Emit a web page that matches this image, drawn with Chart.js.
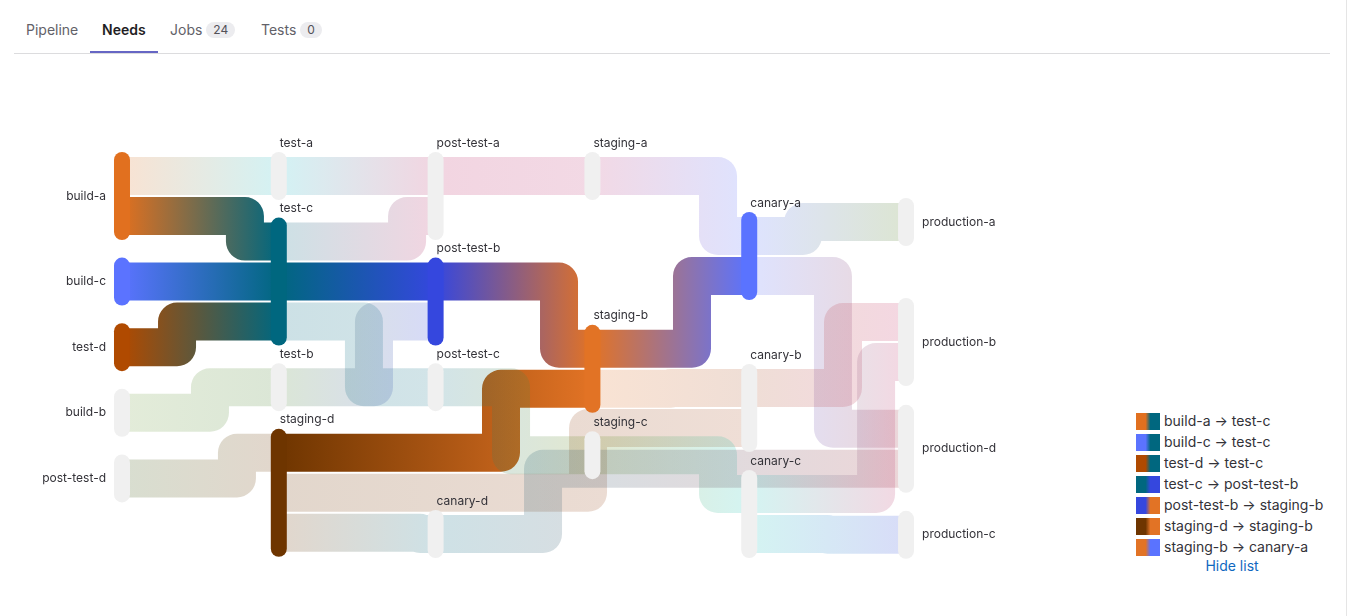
<!DOCTYPE html>
<html>
<head>
<meta charset="utf-8">
<script src="https://cdn.jsdelivr.net/npm/chart.js@4/dist/chart.umd.min.js"></script>
<style>
  body { margin: 0; background: #fff; font-family: Inter, "Noto Sans", sans-serif; color: #333238; }
  .tabs { position: absolute; left: 14px; top: 0; width: 1316px; height: 53px; border-bottom: 1px solid #dcdcde; }
  .tab { position: absolute; top: 21px; font-size: 14px; line-height: 18px; color: #626168; }
  .tab.active { color: #1f1e24; font-weight: 600; }
  .tab .badge { display: inline-block; margin-left: 4px; padding: 0 7px; height: 16px; line-height: 16px; border-radius: 8px; background: #ececef; color: #535158; font-size: 12px; vertical-align: 1px; }
  .underline { position: absolute; left: 76px; top: 51px; width: 68px; height: 2px; background: #6666c4; }
  .edge { position: absolute; left: 1346px; top: 0; width: 1px; height: 616px; background: #e5e5e5; }
  #wrap { position: absolute; left: 0; top: 60px; width: 1100px; height: 556px; }
  .legend { position: absolute; left: 1136px; top: 410px; font-size: 14px; color: #333238; }
  .legend .row { height: 21px; line-height: 21px; white-space: nowrap; }
  .legend .sw { display: inline-block; width: 24px; height: 17px; vertical-align: -4px; margin-right: 4px; }
  .legend .hide { text-align: center; color: #1068bf; width: 192px; margin-top: 0px; }
</style>
</head>
<body>
<div class="tabs">
  <div class="tab" style="left:12px">Pipeline</div>
  <div class="tab active" style="left:88px">Needs</div>
  <div class="tab" style="left:156px">Jobs<span class="badge">24</span></div>
  <div class="tab" style="left:247px">Tests<span class="badge">0</span></div>
  <div class="underline"></div>
</div>
<div class="edge"></div>
<div id="wrap"><canvas id="dag"></canvas></div>
<div class="legend" id="legend"></div>
<script>
// jobs, their column (stage order) and top position (in link units)
const nodeNames = ['build-a', 'build-c', 'test-d', 'build-b', 'post-test-d',
    'test-a', 'test-c', 'test-b', 'staging-d',
    'post-test-a', 'post-test-b', 'post-test-c', 'canary-d',
    'staging-a', 'staging-b', 'staging-c',
    'canary-a', 'canary-b', 'canary-c',
    'production-a', 'production-b', 'production-d', 'production-c'];
const nodeColumn = [0, 0, 0, 0, 0, 1, 1, 1, 1, 2, 2, 2, 2, 3, 3, 3, 4, 4, 4, 5, 5, 5, 5];
const nodeTop = [0, 2.64, 4.28, 5.92, 7.56,
    0, 1.64, 5.28, 6.92,
    0, 2.64, 5.28, 8.95,
    0, 4.32, 6.98,
    1.5, 5.3, 7.95,
    1.15, 3.65, 6.32, 8.97];
const nodeColors = ['#e1701f', '#5b73ff', '#b04a00', '#73a041', '#3c5a14',
    '#23bec8', '#00677f', '#4a8232', '#6e3500',
    '#be2d69', '#3547de', '#1e788c', '#0a6a82',
    '#c0407c', '#e27325', '#6e8c14',
    '#5a73ff', '#af5a32', '#28c8be',
    '#507d1e', '#c8376e', '#a0323c', '#3c50dc'];

// needs: source -> target, every need has the same weight
const linkSource = ['build-a', 'build-a', 'build-c', 'test-d', 'build-b', 'post-test-d',
    'test-a', 'test-c', 'test-c', 'test-c', 'test-b',
    'staging-d', 'staging-d', 'staging-d', 'post-test-a', 'post-test-b', 'post-test-c',
    'staging-a', 'staging-b', 'staging-b', 'staging-c',
    'canary-d', 'canary-a', 'canary-a', 'canary-b', 'canary-c', 'canary-c'];
const linkTarget = ['test-a', 'test-c', 'test-c', 'test-c', 'test-b', 'staging-d',
    'post-test-a', 'post-test-a', 'post-test-b', 'post-test-c', 'post-test-b',
    'staging-b', 'canary-b', 'canary-d', 'staging-a', 'staging-b', 'staging-c',
    'canary-a', 'canary-a', 'canary-b', 'canary-c',
    'production-d', 'production-a', 'production-d', 'production-b', 'production-b', 'production-c'];
const linkValue = [1, 1, 1, 1, 1, 1, 1, 1, 1, 1, 1, 1, 1, 1, 1, 1, 1, 1, 1, 1, 1, 1, 1, 1, 1, 1, 1];

// highlighted path (shown in the list)
const highlightSource = ['build-a', 'build-c', 'test-d', 'test-c', 'post-test-b', 'staging-d', 'staging-b'];
const highlightTarget = ['test-c', 'test-c', 'test-c', 'post-test-b', 'staging-b', 'staging-b', 'canary-a'];

// layout: x (in columns) where each link turns
const linkBend = [0.5, 0.784, 0.5, 0.351, 0.561, 0.733,
    1.5, 1.818, 1.5, 1.543, 1.607,
    2.417, 2.972, 1.9, 2.5, 2.787, 2.481,
    3.801, 3.635, 3.5, 3.801,
    2.685, 4.343, 4.534, 4.598, 4.809, 4.5];

const idx = name => nodeNames.indexOf(name);
const isHi = (s, t) => highlightSource.some((h, i) => h === s && highlightTarget[i] === t);
const hiNodes = new Set([...highlightSource, ...highlightTarget]);

function rgba(hex, a) {
    const n = parseInt(hex.slice(1), 16);
    return `rgba(${n >> 16},${(n >> 8) & 255},${n & 255},${a})`;
}

const dagPlugin = {
    id: 'dag',
    afterDatasetsDraw(chart) {
        const ctx = chart.ctx;
        const xs = chart.scales.x, ys = chart.scales.y;
        const unit = Math.abs(ys.getPixelForValue(1) - ys.getPixelForValue(0));

        // stack links inside nodes
        const outs = nodeNames.map(() => []), ins = nodeNames.map(() => []);
        linkSource.forEach((s, i) => {
            outs[idx(s)].push(i);
            ins[idx(linkTarget[i])].push(i);
        });
        const y0 = [], y1 = [];
        outs.forEach((list, n) => {
            list.sort((a, b) => nodeTop[idx(linkTarget[a])] - nodeTop[idx(linkTarget[b])]);
            let acc = nodeTop[n];
            list.forEach(l => { y0[l] = acc + linkValue[l] / 2; acc += linkValue[l]; });
        });
        ins.forEach((list, n) => {
            list.sort((a, b) => nodeTop[idx(linkSource[a])] - nodeTop[idx(linkSource[b])]);
            let acc = nodeTop[n];
            list.forEach(l => { y1[l] = acc + linkValue[l] / 2; acc += linkValue[l]; });
        });
        const height = nodeNames.map((n, i) => Math.max(
            outs[i].reduce((a, l) => a + linkValue[l], 0),
            ins[i].reduce((a, l) => a + linkValue[l], 0)));

        ctx.save();
        ctx.lineJoin = 'round';
        ctx.lineCap = 'butt';
        linkSource.forEach((s, i) => {
            const si = idx(s), ti = idx(linkTarget[i]);
            const sx = xs.getPixelForValue(nodeColumn[si]);
            const tx = xs.getPixelForValue(nodeColumn[ti]);
            const mx = xs.getPixelForValue(linkBend[i]);
            const py0 = ys.getPixelForValue(y0[i]), py1 = ys.getPixelForValue(y1[i]);
            const hi = isHi(s, linkTarget[i]);
            const a = hi ? 1 : 0.2;
            const g = ctx.createLinearGradient(sx, 0, tx, 0);
            g.addColorStop(0, rgba(nodeColors[si], a));
            g.addColorStop(1, rgba(nodeColors[ti], a));
            ctx.strokeStyle = g;
            ctx.lineWidth = unit * linkValue[i] - 2;
            ctx.beginPath();
            ctx.moveTo(sx, py0);
            if (Math.abs(py0 - py1) > 0.5) {
                ctx.lineTo(mx, py0);
                ctx.lineTo(mx, py1);
            }
            ctx.lineTo(tx, py1);
            ctx.stroke();
        });

        // nodes
        nodeNames.forEach((name, i) => {
            const cx = xs.getPixelForValue(nodeColumn[i]);
            const top = ys.getPixelForValue(nodeTop[i]) - 4;
            const bot = ys.getPixelForValue(nodeTop[i] + height[i]) + 4;
            ctx.fillStyle = hiNodes.has(name) ? nodeColors[i] : '#f0f0f0';
            ctx.beginPath();
            ctx.roundRect(cx - 8, top, 16, bot - top, 8);
            ctx.fill();

            ctx.fillStyle = '#333238';
            ctx.font = '12px Inter';
            ctx.textBaseline = 'middle';
            const col = nodeColumn[i];
            if (col === 0) {
                ctx.textAlign = 'right';
                ctx.fillText(name, cx - 16, (top + bot) / 2);
            } else if (col === 5) {
                ctx.textAlign = 'left';
                ctx.fillText(name, cx + 16, (top + bot) / 2);
            } else {
                ctx.textAlign = 'left';
                ctx.fillText(name, cx + 1, top - 9);
            }
        });
        ctx.restore();
    }
};

new Chart(document.getElementById('dag'), {
    type: 'scatter',
    data: {
        datasets: [{
            data: nodeNames.map((n, i) => ({ x: nodeColumn[i], y: nodeTop[i] })),
            pointRadius: 0
        }]
    },
    options: {
        responsive: true,
        maintainAspectRatio: false,
        animation: false,
        layout: { padding: 0 },
        scales: {
            x: { type: 'linear', display: false, min: -0.778, max: 6.237 },
            y: { type: 'linear', display: false, reverse: true, min: -2.4, max: 11.5 }
        },
        plugins: { legend: { display: false }, tooltip: { enabled: false } }
    },
    plugins: [dagPlugin]
});

// list of highlighted needs
const legend = document.getElementById('legend');
highlightSource.forEach((s, i) => {
    const t = highlightTarget[i];
    const row = document.createElement('div');
    row.className = 'row';
    const sw = document.createElement('span');
    sw.className = 'sw';
    sw.style.background = `linear-gradient(to right, ${nodeColors[idx(s)]} 40%, ${nodeColors[idx(t)]} 60%)`;
    row.appendChild(sw);
    row.appendChild(document.createTextNode(s + ' \u2192 ' + t));
    legend.appendChild(row);
});
const hide = document.createElement('div');
hide.className = 'hide';
hide.textContent = 'Hide list';
legend.appendChild(hide);
</script>
</body>
</html>
